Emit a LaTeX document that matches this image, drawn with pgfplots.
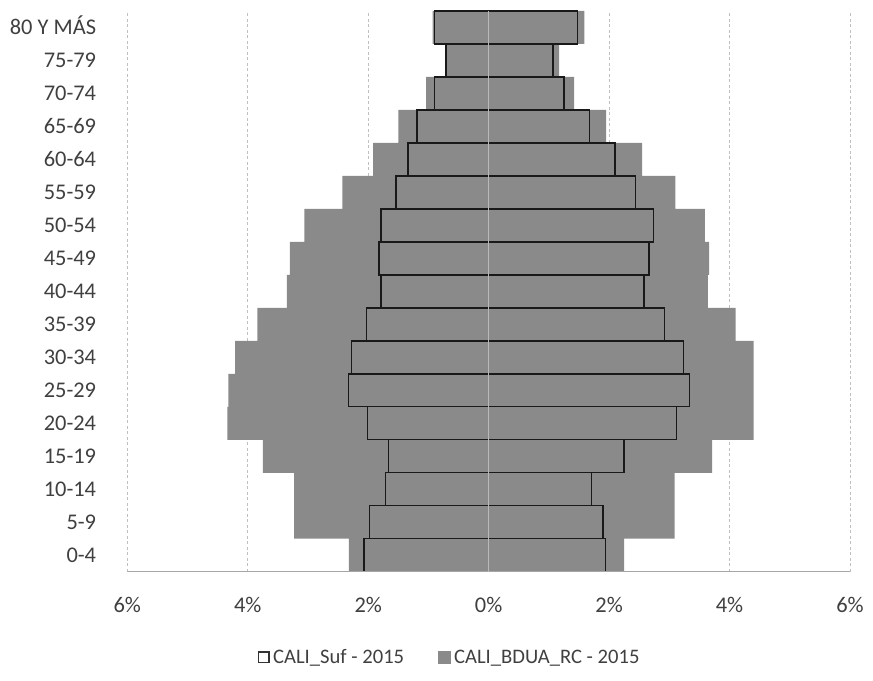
\documentclass[border=0pt]{standalone}
\usepackage{pgfplots}
\pgfplotsset{compat=1.18}
\usepackage{fontspec}
\setmainfont{Carlito}

\definecolor{bdua}{RGB}{138,138,138}
\definecolor{txt}{RGB}{64,64,64}
\definecolor{gridc}{RGB}{192,192,192}

\begin{document}
\begin{tikzpicture}
% page = 873 x 681 bp, plot area 722.7 x 560.7 bp
\path[use as bounding box] (-127.3bp,-109.3bp) rectangle (745.7bp,571.7bp);
\begin{axis}[
    at={(0,0)}, anchor=south west,
    scale only axis,
    width=722.7bp, height=560.7bp,
    xmin=-6, xmax=6, ymin=-0.5, ymax=16.5,
    xbar, bar width=1,
    axis line style={draw=none},
    major tick length=0pt,
    xtick={-6,-4,...,6},
    xticklabels={6\%,4\%,2\%,0\%,2\%,4\%,6\%},
    ytick={0,...,16},
    yticklabels={0-4,5-9,10-14,15-19,20-24,25-29,30-34,35-39,40-44,45-49,50-54,55-59,60-64,65-69,70-74,75-79,80 Y MÁS},
    xmajorgrids,
    grid style={gridc, dash pattern=on 3bp off 2.5bp, line width=0.8bp},
    tick label style={font=\fontsize{22.5}{27}\selectfont, text=txt, inner sep=0pt},
    yticklabel style={anchor=base east, yshift=-7.2bp},
    xticklabel style={anchor=north},
    yticklabel shift=31bp,
    xticklabel shift=25bp,
    legend style={at={(axis description cs:0.4452,-0.153)}, anchor=center,
        draw=none, fill=none, legend columns=2,
        font=\fontsize{20.7}{24}\selectfont, text=txt,
        nodes={inner sep=1bp},
        /tikz/every odd column/.append style={column sep=2.5bp},
        /tikz/every even column/.append style={column sep=33bp}},
]
% CALI_BDUA_RC - 2015 (men negative, women positive)
\addplot[bar shift=0pt, fill=bdua, draw=none, forget plot] coordinates {
    (-2.32,0) (-3.23,1) (-3.23,2) (-3.75,3) (-4.34,4) (-4.32,5) (-4.21,6)
    (-3.84,7) (-3.35,8) (-3.30,9) (-3.06,10) (-2.43,11) (-1.92,12)
    (-1.50,13) (-1.04,14) (-0.70,15) (-0.93,16)
};
\addplot[bar shift=0pt, fill=bdua, draw=none, forget plot] coordinates {
    (2.25,0) (3.09,1) (3.09,2) (3.71,3) (4.40,4) (4.40,5) (4.40,6)
    (4.10,7) (3.64,8) (3.66,9) (3.59,10) (3.10,11) (2.55,12)
    (1.95,13) (1.42,14) (1.17,15) (1.59,16)
};
% CALI_Suf - 2015
\addplot[bar shift=0pt, fill=none, draw=black!90, line width=1.4bp, forget plot] coordinates {
    (-2.07,0) (-1.98,1) (-1.71,2) (-1.66,3) (-2.01,4) (-2.33,5) (-2.28,6)
    (-2.03,7) (-1.79,8) (-1.82,9) (-1.79,10) (-1.54,11) (-1.34,12)
    (-1.19,13) (-0.90,14) (-0.71,15) (-0.90,16)
};
\addplot[bar shift=0pt, fill=none, draw=black!90, line width=1.4bp, forget plot] coordinates {
    (1.94,0) (1.90,1) (1.71,2) (2.25,3) (3.12,4) (3.33,5) (3.24,6)
    (2.92,7) (2.58,8) (2.66,9) (2.74,10) (2.44,11) (2.10,12)
    (1.67,13) (1.25,14) (1.07,15) (1.48,16)
};
\addlegendimage{legend image code/.code={\draw[black!80, line width=1.2bp] (0.6bp,-5.4bp) rectangle (11.4bp,5.4bp);}}
\addlegendentry{CALI\_Suf - 2015}
\addlegendimage{legend image code/.code={\fill[bdua] (0bp,-6bp) rectangle (12bp,6bp);}}
\addlegendentry{CALI\_BDUA\_RC - 2015}

\draw[gray!70, line width=1bp] (rel axis cs:0,0) -- (rel axis cs:1,0);
\draw[gray!55, line width=1bp] (axis cs:0,-0.5) -- (axis cs:0,16.5);
\end{axis}
\end{tikzpicture}
\end{document}
